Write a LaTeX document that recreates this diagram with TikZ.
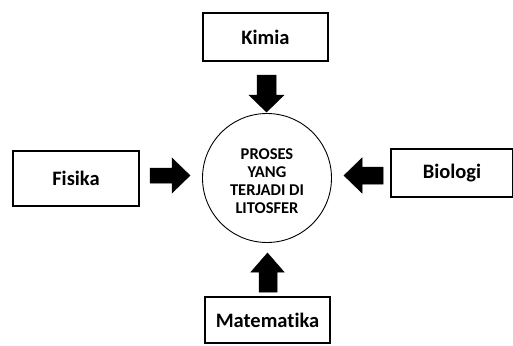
\documentclass[tikz,border=0pt]{standalone}
\usepackage{fontspec}
\setmainfont[Ligatures={NoCommon}]{Carlito}
\begin{document}
\begin{tikzpicture}[x=1pt,y=-1pt,
  box/.style={draw,line width=1.2pt,minimum width=125pt,inner sep=0pt,font=\bfseries\fontsize{20.5}{24}\selectfont},
  blk/.style={fill=black,draw=black,line width=0.5pt,line join=miter}]
\useasboundingbox (0,0) rectangle (513,345);
\node[box,minimum height=48pt] (kimia) at (265.5,37) {Kimia};
\node[box,minimum height=55pt,minimum width=126pt] (fisika) at (76,178.5) {Fisika};
\node[box,minimum height=48pt,minimum width=122pt] (biologi) at (452,173) {Biologi};
\node[box,minimum height=46pt] (mate) at (267.5,320) {Matematika};
\node[draw,circle,line width=0.9pt,minimum size=129pt,inner sep=0pt] (proses) at (267,178) {};
\node[align=center,inner sep=0pt,font=\bfseries\fontsize{16.5}{18}\selectfont] (prosestext) at (267,181)
  {PROSES\\YANG\\TERJADI DI\\LITOSFER};
% down arrow (Kimia)
\fill[blk] (257,75) -- (276,75) -- (276,95) -- (284,95) -- (266.5,112) -- (249,95) -- (257,95) -- cycle;
% up arrow (Matematika)
\fill[blk] (259,292) -- (277,292) -- (277,272) -- (284,272) -- (267.5,253) -- (251,272) -- (259,272) -- cycle;
% right arrow (Fisika)
\fill[blk] (150,168) -- (172,168) -- (172,158) -- (190,175.5) -- (172,193) -- (172,183) -- (150,183) -- cycle;
% left arrow (Biologi)
\fill[blk] (383,167) -- (362,167) -- (362,158) -- (344,175.5) -- (362,193) -- (362,184) -- (383,184) -- cycle;
\end{tikzpicture}
\end{document}
